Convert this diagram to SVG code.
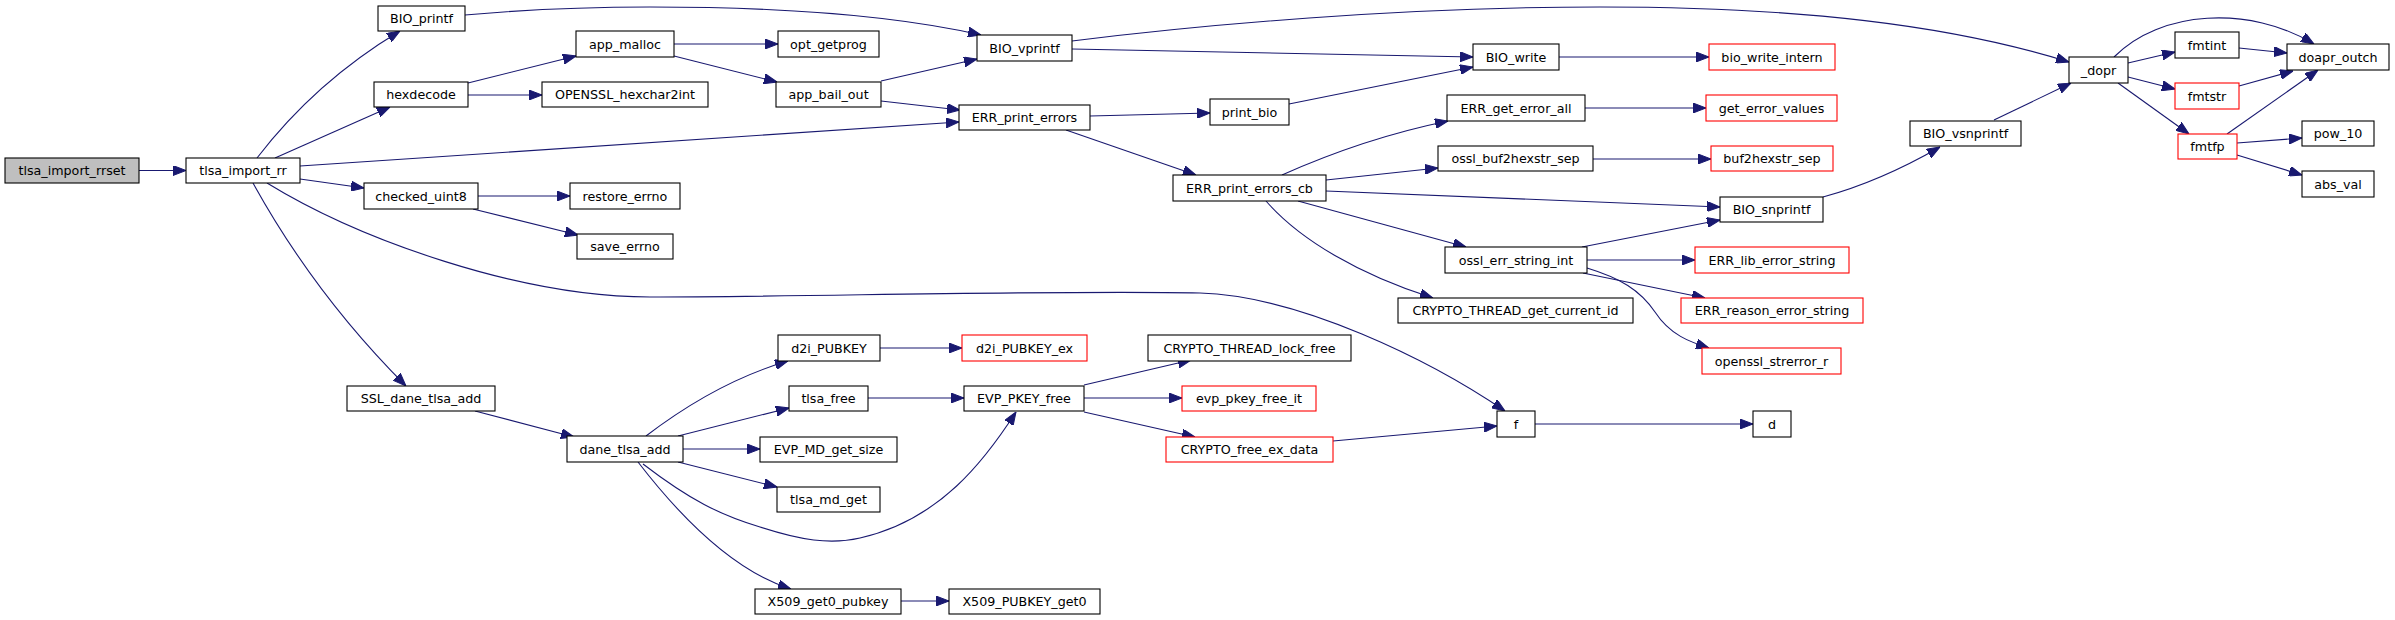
<svg xmlns="http://www.w3.org/2000/svg" width="2395" height="620" viewBox="0 0 2395 620">
<defs>
<style>
.n rect{fill:#fff;stroke:#000;stroke-width:1.1}
.n.red rect{stroke:#f00}
.n.root rect{fill:#bfbfbf;stroke:#000}
.n text{font-family:"DejaVu Sans",sans-serif;font-size:12.7px;text-anchor:middle;fill:#000}
.e path{fill:none;stroke:#191970;stroke-width:1.1;marker-end:url(#ah)}
</style>
<marker id="ah" markerUnits="userSpaceOnUse" markerWidth="13" markerHeight="10" refX="13" refY="5" orient="auto">
<path d="M0,0 L13,5 L0,10 z" fill="#191970" stroke="#191970" stroke-width="1"/>
</marker>
</defs>
<rect width="2395" height="620" fill="#fff"/>
<g id="edges" class="e">
<path d="M139,170.5 L186,170.5"/>
<path d="M257,158 C290,115 335,70 400,31"/>
<path d="M275,158 L390,107"/>
<path d="M300,166 L959,122"/>
<path d="M300,179 L364,188"/>
<path d="M267,183 C360,240 520,297 650,297 C800,297 1050,290 1200,293 C1300,296 1430,360 1505,411"/>
<path d="M253,183 C290,250 340,320 406,386"/>
<path d="M465,15 C520,10 580,7 650,7 C760,7 880,12 981,35"/>
<path d="M468,83 L576,56"/>
<path d="M468,95 L542,95"/>
<path d="M478,196 L570,196"/>
<path d="M473,209 L578,235"/>
<path d="M674,44 L778,44"/>
<path d="M674,56 L777,82"/>
<path d="M881,81 L977,59"/>
<path d="M881,101 L960,110"/>
<path d="M1072,41 C1200,25 1400,7 1600,7 C1800,7 1950,25 2069,62"/>
<path d="M1072,49 L1473,57"/>
<path d="M1090,116 L1210,113"/>
<path d="M1066,130 L1196,175"/>
<path d="M1289,104 L1473,67"/>
<path d="M1559,57 L1709,57"/>
<path d="M1282,175 C1320,158 1380,135 1448,121"/>
<path d="M1326,180 L1438,168"/>
<path d="M1326,191 L1720,207"/>
<path d="M1298,201 L1466,247"/>
<path d="M1266,201 C1300,240 1360,275 1433,298"/>
<path d="M1585,108 L1706,108"/>
<path d="M1593,159 L1711,159"/>
<path d="M1582,247 L1720,220"/>
<path d="M1587,260 L1695,260"/>
<path d="M1583,273 L1705,298"/>
<path d="M1587,268 C1620,278 1640,290 1655,312 C1670,335 1690,342 1709,348"/>
<path d="M1823,197 C1860,187 1900,170 1940,147"/>
<path d="M1994,120 L2071,83"/>
<path d="M2128,63 L2175,52"/>
<path d="M2128,77 L2175,89"/>
<path d="M2118,83 L2189,134"/>
<path d="M2114,57 C2160,10 2250,5 2314,44"/>
<path d="M2239,48 L2287,53"/>
<path d="M2239,86 L2293,71"/>
<path d="M2227,134 L2318,70"/>
<path d="M2237,143 L2302,138"/>
<path d="M2237,155 L2302,175"/>
<path d="M475,411 L574,437"/>
<path d="M646,436 C680,410 730,378 788,361"/>
<path d="M678,436 L789,408"/>
<path d="M683,449 L760,449"/>
<path d="M678,462 L777,487"/>
<path d="M643,464 C690,500 720,515 760,527 C800,540 830,545 860,538 C940,520 985,460 1016,412"/>
<path d="M638,462 C675,510 730,570 791,589"/>
<path d="M880,348 L962,348"/>
<path d="M868,398 L964,398"/>
<path d="M1084,385 L1191,360"/>
<path d="M1084,398 L1182,398"/>
<path d="M1084,412 L1195,437"/>
<path d="M1333,441 L1497,426"/>
<path d="M901,601 L949,601"/>
<path d="M1535,424 L1753,424"/>
</g>
<g id="tlsa_import_rrset" class="n root"><rect x="5" y="158" width="134" height="25"/><text x="72" y="175">tlsa_import_rrset</text></g>
<g id="tlsa_import_rr" class="n"><rect x="186" y="158" width="114" height="25"/><text x="243" y="175">tlsa_import_rr</text></g>
<g id="BIO_printf" class="n"><rect x="378" y="6" width="87" height="25"/><text x="421.5" y="23">BIO_printf</text></g>
<g id="hexdecode" class="n"><rect x="374" y="82" width="94" height="25"/><text x="421" y="99">hexdecode</text></g>
<g id="checked_uint8" class="n"><rect x="364" y="183" width="114" height="26"/><text x="421" y="200.5">checked_uint8</text></g>
<g id="app_malloc" class="n"><rect x="576" y="31" width="98" height="26"/><text x="625" y="48.5">app_malloc</text></g>
<g id="OPENSSL_hexchar2int" class="n"><rect x="542" y="82" width="166" height="25"/><text x="625" y="99">OPENSSL_hexchar2int</text></g>
<g id="restore_errno" class="n"><rect x="570" y="183" width="110" height="26"/><text x="625" y="200.5">restore_errno</text></g>
<g id="save_errno" class="n"><rect x="577" y="234" width="96" height="25"/><text x="625" y="251">save_errno</text></g>
<g id="opt_getprog" class="n"><rect x="778" y="31" width="101" height="26"/><text x="828.5" y="48.5">opt_getprog</text></g>
<g id="app_bail_out" class="n"><rect x="776" y="82" width="105" height="25"/><text x="828.5" y="99">app_bail_out</text></g>
<g id="BIO_vprintf" class="n"><rect x="977" y="35" width="95" height="26"/><text x="1024.5" y="52.5">BIO_vprintf</text></g>
<g id="ERR_print_errors" class="n"><rect x="959" y="105" width="131" height="25"/><text x="1024.5" y="122">ERR_print_errors</text></g>
<g id="ERR_print_errors_cb" class="n"><rect x="1173" y="175" width="153" height="26"/><text x="1249.5" y="192.5">ERR_print_errors_cb</text></g>
<g id="print_bio" class="n"><rect x="1210" y="99" width="79" height="26"/><text x="1249.5" y="116.5">print_bio</text></g>
<g id="BIO_write" class="n"><rect x="1473" y="44" width="86" height="26"/><text x="1516" y="61.5">BIO_write</text></g>
<g id="ERR_get_error_all" class="n"><rect x="1447" y="95" width="138" height="26"/><text x="1516" y="112.5">ERR_get_error_all</text></g>
<g id="ossl_buf2hexstr_sep" class="n"><rect x="1438" y="146" width="155" height="25"/><text x="1515.5" y="163">ossl_buf2hexstr_sep</text></g>
<g id="ossl_err_string_int" class="n"><rect x="1445" y="247" width="142" height="26"/><text x="1516" y="264.5">ossl_err_string_int</text></g>
<g id="CRYPTO_THREAD_get_current_id" class="n"><rect x="1398" y="298" width="235" height="25"/><text x="1515.5" y="315">CRYPTO_THREAD_get_current_id</text></g>
<g id="bio_write_intern" class="n red"><rect x="1709" y="44" width="126" height="26"/><text x="1772" y="61.5">bio_write_intern</text></g>
<g id="get_error_values" class="n red"><rect x="1706" y="95" width="131" height="26"/><text x="1771.5" y="112.5">get_error_values</text></g>
<g id="buf2hexstr_sep" class="n red"><rect x="1711" y="146" width="122" height="25"/><text x="1772" y="163">buf2hexstr_sep</text></g>
<g id="BIO_snprintf" class="n"><rect x="1720" y="197" width="103" height="25"/><text x="1771.5" y="214">BIO_snprintf</text></g>
<g id="ERR_lib_error_string" class="n red"><rect x="1695" y="247" width="154" height="26"/><text x="1772" y="264.5">ERR_lib_error_string</text></g>
<g id="ERR_reason_error_string" class="n red"><rect x="1681" y="298" width="182" height="25"/><text x="1772" y="315">ERR_reason_error_string</text></g>
<g id="openssl_strerror_r" class="n red"><rect x="1702" y="348" width="139" height="26"/><text x="1771.5" y="365.5">openssl_strerror_r</text></g>
<g id="BIO_vsnprintf" class="n"><rect x="1910" y="121" width="111" height="25"/><text x="1965.5" y="138">BIO_vsnprintf</text></g>
<g id="_dopr" class="n"><rect x="2069" y="57" width="59" height="26"/><text x="2098.5" y="74.5">_dopr</text></g>
<g id="fmtint" class="n"><rect x="2175" y="32" width="64" height="26"/><text x="2207" y="49.5">fmtint</text></g>
<g id="fmtstr" class="n red"><rect x="2175" y="83" width="64" height="26"/><text x="2207" y="100.5">fmtstr</text></g>
<g id="fmtfp" class="n red"><rect x="2178" y="134" width="59" height="25"/><text x="2207.5" y="151">fmtfp</text></g>
<g id="doapr_outch" class="n"><rect x="2287" y="44" width="102" height="26"/><text x="2338" y="61.5">doapr_outch</text></g>
<g id="pow_10" class="n"><rect x="2302" y="121" width="72" height="25"/><text x="2338" y="138">pow_10</text></g>
<g id="abs_val" class="n"><rect x="2302" y="171" width="72" height="26"/><text x="2338" y="188.5">abs_val</text></g>
<g id="SSL_dane_tlsa_add" class="n"><rect x="347" y="386" width="148" height="25"/><text x="421" y="403">SSL_dane_tlsa_add</text></g>
<g id="dane_tlsa_add" class="n"><rect x="567" y="436" width="116" height="26"/><text x="625" y="453.5">dane_tlsa_add</text></g>
<g id="d2i_PUBKEY" class="n"><rect x="778" y="335" width="102" height="26"/><text x="829" y="352.5">d2i_PUBKEY</text></g>
<g id="d2i_PUBKEY_ex" class="n red"><rect x="962" y="335" width="125" height="26"/><text x="1024.5" y="352.5">d2i_PUBKEY_ex</text></g>
<g id="tlsa_free" class="n"><rect x="789" y="386" width="79" height="25"/><text x="828.5" y="403">tlsa_free</text></g>
<g id="EVP_PKEY_free" class="n"><rect x="964" y="386" width="120" height="25"/><text x="1024" y="403">EVP_PKEY_free</text></g>
<g id="EVP_MD_get_size" class="n"><rect x="760" y="437" width="137" height="25"/><text x="828.5" y="454">EVP_MD_get_size</text></g>
<g id="tlsa_md_get" class="n"><rect x="777" y="487" width="103" height="25"/><text x="828.5" y="504">tlsa_md_get</text></g>
<g id="X509_get0_pubkey" class="n"><rect x="755" y="589" width="146" height="25"/><text x="828" y="606">X509_get0_pubkey</text></g>
<g id="X509_PUBKEY_get0" class="n"><rect x="949" y="589" width="151" height="25"/><text x="1024.5" y="606">X509_PUBKEY_get0</text></g>
<g id="CRYPTO_THREAD_lock_free" class="n"><rect x="1148" y="335" width="203" height="26"/><text x="1249.5" y="352.5">CRYPTO_THREAD_lock_free</text></g>
<g id="evp_pkey_free_it" class="n red"><rect x="1182" y="386" width="134" height="25"/><text x="1249" y="403">evp_pkey_free_it</text></g>
<g id="CRYPTO_free_ex_data" class="n red"><rect x="1166" y="437" width="167" height="25"/><text x="1249.5" y="454">CRYPTO_free_ex_data</text></g>
<g id="f" class="n"><rect x="1497" y="411" width="38" height="26"/><text x="1516" y="428.5">f</text></g>
<g id="d" class="n"><rect x="1753" y="411" width="38" height="26"/><text x="1772" y="428.5">d</text></g>
</svg>
